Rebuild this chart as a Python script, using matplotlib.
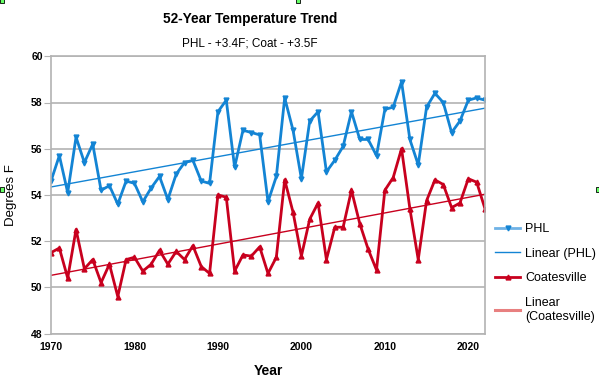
import numpy as np
import matplotlib
matplotlib.use('Agg')
from matplotlib import pyplot as plt
from matplotlib.patches import Rectangle

years = list(range(1970, 2023))

phl = [54.6, 55.7, 54.1, 56.5, 55.4, 56.2, 54.2, 54.4, 53.6, 54.6,
       54.5, 53.7, 54.3, 54.8, 53.8, 54.9, 55.4, 55.5, 54.6, 54.5,
       57.6, 58.1, 55.2, 56.8, 56.7, 56.6, 53.7, 54.8, 58.2, 56.8,
       54.7, 57.2, 57.6, 55.0, 55.5, 56.1, 57.6, 56.4, 56.4, 55.7,
       57.7, 57.8, 58.9, 56.4, 55.3, 57.8, 58.4, 58.0, 56.7, 57.2,
       58.1, 58.2, 58.1]

coatesville = [51.5, 51.7, 50.4, 52.5, 50.8, 51.2, 50.2, 51.0, 49.6, 51.2,
               51.3, 50.7, 51.0, 51.6, 51.0, 51.55, 51.2, 51.8, 50.9, 50.6,
               54.0, 53.9, 50.7, 51.4, 51.35, 51.75, 50.6, 51.3, 54.65, 53.25,
               51.35, 52.95, 53.65, 51.2, 52.6, 52.6, 54.2, 52.75, 51.65, 50.75,
               54.2, 54.75, 56.0, 53.4, 51.2, 53.75, 54.65, 54.45, 53.45, 53.65,
               54.7, 54.55, 53.4]

yticks = [48, 50, 52, 54, 56, 58, 60]
xticks = [1970, 1980, 1990, 2000, 2010, 2020]

blue = '#1384d4'
red = '#c8001e'

x = np.array(years)
phl_fit = np.polyval(np.polyfit(x, phl, 1), x)
coat_fit = np.polyval(np.polyfit(x, coatesville, 1), x)

fig = plt.figure(figsize=(5.99, 3.80), dpi=100)
ax = fig.add_axes([51 / 599, 1 - 333.5 / 380, 434 / 599, 277.2 / 380])

ax.plot(years, phl, color=blue, lw=2.0, marker='v', ms=3.5, label='PHL')
ax.plot(years, phl_fit, color=blue, lw=1.0, label='Linear (PHL)')
ax.plot(years, coatesville, color=red, lw=2.0, marker='^', ms=3.5, label='Coatesville')
ax.plot(years, coat_fit, color=red, lw=1.0, label='Linear\n(Coatesville)')

ax.set_xlim(1970, 2022)
ax.set_ylim(48, 60)
ax.set_xticks(xticks)
ax.set_yticks(yticks)
ax.grid(axis='y', color='#b3b3b3', lw=1.2)
ax.set_axisbelow(True)
for s in ax.spines.values():
    s.set_color('#b3b3b3')
    s.set_linewidth(1.2)
ax.tick_params(axis='y', length=5, color='#b3b3b3', labelsize=7.5, pad=1)
ax.tick_params(axis='x', length=0, labelsize=7.5, pad=6)
for t in ax.get_xticklabels() + ax.get_yticklabels():
    t.set_fontfamily('Liberation Sans')
    t.set_fontweight('bold')

ax.set_xlabel('Year', fontsize=10, fontweight='bold', family='Liberation Sans', labelpad=9)
ax.set_ylabel('Degrees F', fontsize=9.5, family='Liberation Sans', labelpad=10)

fig.text(250 / 599, 1 - 19 / 380, '52-Year Temperature Trend', ha='center', va='center',
         fontsize=9.8, fontweight='bold', family='Liberation Sans')
fig.text(250 / 599, 1 - 44 / 380, 'PHL - +3.4F; Coat - +3.5F', ha='center', va='center',
         fontsize=8.5, family='Liberation Sans')

handles, labels = ax.get_legend_handles_labels()
leg = fig.legend(handles, labels, loc='upper left', bbox_to_anchor=(484 / 599, 1 - 212 / 380),
                 frameon=False, prop={'family': 'Liberation Sans', 'size': 9},
                 handlelength=2.0, handletextpad=0.4, labelspacing=1.0)
leg.get_lines()[3].set_color('#e88080')
leg.get_lines()[3].set_linewidth(2.2)
leg.get_lines()[0].set_color('#6fb2e6')
leg.get_lines()[0].set_markerfacecolor(blue)
leg.get_lines()[0].set_markeredgecolor(blue)
leg.get_lines()[2].set_markerfacecolor(red)
leg.get_lines()[2].set_markeredgecolor(red)

# selection handles
for hx, hy in [(0, 377), (296, 377), (0, 188), (596, 188)]:
    fig.patches.append(Rectangle((hx / 599, hy / 380), 4 / 599, 5 / 380, transform=fig.transFigure,
                                 facecolor='#66ff66', edgecolor='black', lw=0.6))

fig.savefig('out.png', dpi=100)
